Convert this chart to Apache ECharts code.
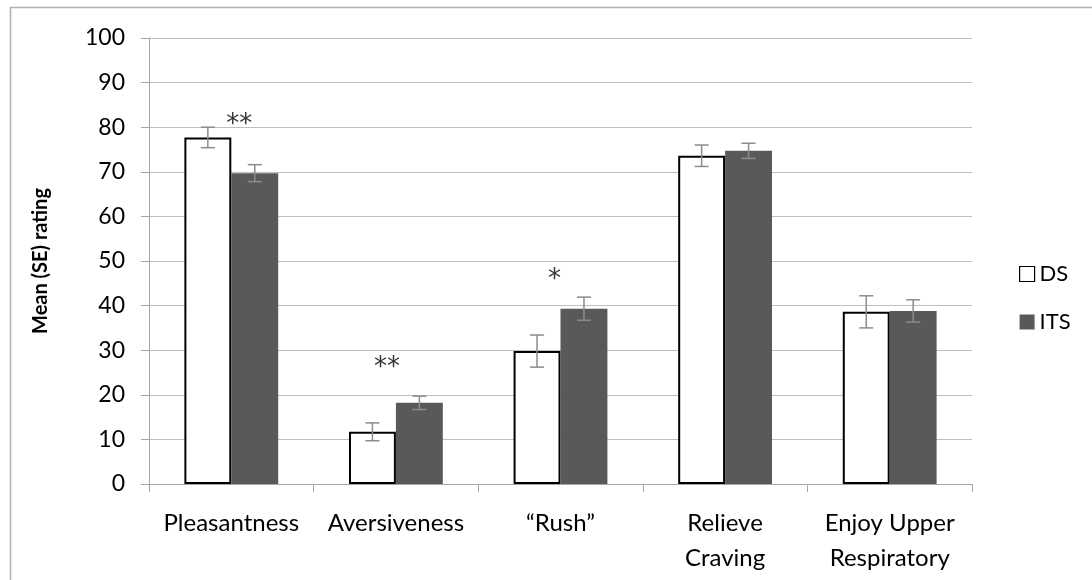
<!DOCTYPE html>
<html>
<head>
<meta charset="utf-8">
<script src="https://cdn.jsdelivr.net/npm/echarts@6/dist/echarts.min.js"></script>
<style>
  html, body { margin: 0; padding: 0; background: #fff; }
  #main { width: 1092px; height: 580px; }
</style>
</head>
<body>
<div id="main"></div>
<script>
var categories = ['Pleasantness', 'Aversiveness', '\u201cRush\u201d', 'Relieve\nCraving', 'Enjoy Upper\nRespiratory'];
var dsMean = [77.7, 11.7, 29.8, 73.6, 38.6];
var dsSE = [2.3, 2.0, 3.6, 2.4, 3.6];
var itsMean = [69.7, 18.2, 39.3, 74.7, 38.8];
var itsSE = [1.9, 1.5, 2.6, 1.7, 2.5];
// significance marks
var sigCat = [0, 1, 2];
var sigVal = [81.8, 27.2, 47.0];
var sigText = ['**', '**', '*'];
var sigShift = [8, -9, -6];

var chartDom = document.getElementById('main');
var myChart = echarts.init(chartDom);
var font = 'Lato, "Open Sans", sans-serif';
var catGap = 0.43;

function errorSeries(name, means, ses, side) {
  return {
    name: name + ' SE',
    type: 'custom',
    z: 10,
    silent: true,
    data: means.map(function (m, i) { return [i, m - ses[i], m + ses[i]]; }),
    renderItem: function (params, api) {
      var band = api.size([1, 0])[0];
      var barW = band * (1 - catGap) / 2;
      var lo = api.coord([api.value(0), api.value(1)]);
      var hi = api.coord([api.value(0), api.value(2)]);
      var x = lo[0] + side * barW / 2;
      var cap = 7;
      var st = { stroke: '#8c8c8c', lineWidth: 1.5 };
      return {
        type: 'group',
        children: [
          { type: 'line', shape: { x1: x, y1: lo[1], x2: x, y2: hi[1] }, style: st },
          { type: 'line', shape: { x1: x - cap, y1: lo[1], x2: x + cap, y2: lo[1] }, style: st },
          { type: 'line', shape: { x1: x - cap, y1: hi[1], x2: x + cap, y2: hi[1] }, style: st }
        ]
      };
    }
  };
}

var option = {
  animation: false,
  textStyle: { fontFamily: font },
  graphic: [{
    type: 'rect',
    shape: { x: 10.5, y: 7.5, width: 1200, height: 700 },
    style: { fill: 'none', stroke: '#b0b0b0', lineWidth: 1.5 },
    silent: true
  }],
  legend: {
    orient: 'vertical',
    left: 1014,
    top: 258,
    itemGap: 26,
    itemWidth: 15,
    itemHeight: 15,
    textStyle: { fontSize: 22, color: '#000', fontFamily: font },
    data: [
      { name: 'DS', icon: 'rect', itemStyle: { color: '#fff', borderColor: '#000', borderWidth: 1.2 } },
      { name: 'ITS', icon: 'rect', itemStyle: { color: '#595959' } }
    ]
  },
  grid: { left: 149, right: 120, top: 38, bottom: 96 },
  xAxis: {
    type: 'category',
    data: categories,
    axisLine: { lineStyle: { color: '#a6a6a6', width: 1 } },
    axisTick: { show: true, length: 8, lineStyle: { color: '#a6a6a6' } },
    axisLabel: { fontSize: 24, color: '#000', margin: 22, lineHeight: 35, interval: 0, fontFamily: font }
  },
  yAxis: {
    type: 'value',
    min: 0,
    max: 100,
    interval: 10,
    name: 'Mean (SE) rating',
    nameLocation: 'middle',
    nameGap: 98,
    nameTextStyle: { fontSize: 20, fontWeight: 'bold', color: '#000', fontFamily: font },
    axisLine: { show: true, lineStyle: { color: '#a6a6a6', width: 1 } },
    axisTick: { show: true, length: 8, lineStyle: { color: '#a6a6a6' } },
    axisLabel: { fontSize: 23, color: '#000', margin: 24, fontFamily: font },
    splitLine: { lineStyle: { color: '#bfbfbf', width: 1.2 } }
  },
  series: [
    {
      name: 'DS',
      type: 'bar',
      data: dsMean,
      barGap: '0%',
      barCategoryGap: (catGap * 100) + '%',
      itemStyle: { color: '#fff', borderColor: '#000', borderWidth: 2 }
    },
    {
      name: 'ITS',
      type: 'bar',
      data: itsMean,
      itemStyle: { color: '#595959', borderColor: '#595959', borderWidth: 0 }
    },
    errorSeries('DS', dsMean, dsSE, -1),
    errorSeries('ITS', itsMean, itsSE, 1),
    {
      name: 'sig',
      type: 'scatter',
      symbolSize: 0,
      silent: true,
      data: sigCat.map(function (c, i) {
        return {
          value: [c, sigVal[i]],
          label: { show: true, formatter: sigText[i], offset: [sigShift[i], 6] }
        };
      }),
      label: { position: 'inside', fontSize: 26, color: '#000', fontFamily: '"DejaVu Sans", sans-serif' }
    }
  ]
};

option && myChart.setOption(option);
</script>
</body>
</html>
